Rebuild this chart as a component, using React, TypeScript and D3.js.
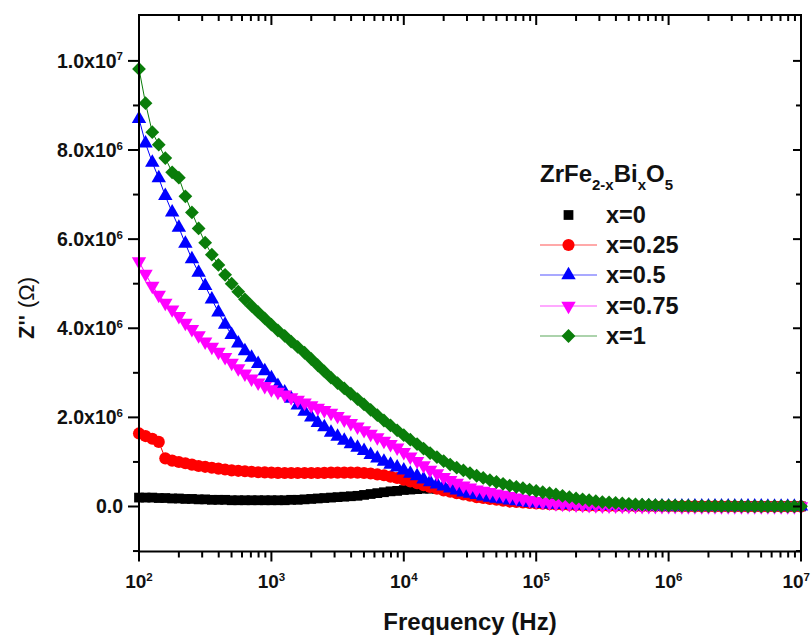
import React from 'react';
import * as d3 from 'd3';

// Measurement frequencies (Hz), 20 points per decade
const frequencies = [
  1.00e2, 1.12e2, 1.26e2, 1.41e2, 1.58e2, 1.78e2, 2.00e2, 2.24e2, 2.51e2, 2.82e2,
  3.16e2, 3.55e2, 3.98e2, 4.47e2, 5.01e2, 5.62e2, 6.31e2, 7.08e2, 7.94e2, 8.91e2,
  1.00e3, 1.12e3, 1.26e3, 1.41e3, 1.58e3, 1.78e3, 2.00e3, 2.24e3, 2.51e3, 2.82e3,
  3.16e3, 3.55e3, 3.98e3, 4.47e3, 5.01e3, 5.62e3, 6.31e3, 7.08e3, 7.94e3, 8.91e3,
  1.00e4, 1.12e4, 1.26e4, 1.41e4, 1.58e4, 1.78e4, 2.00e4, 2.24e4, 2.51e4, 2.82e4,
  3.16e4, 3.55e4, 3.98e4, 4.47e4, 5.01e4, 5.62e4, 6.31e4, 7.08e4, 7.94e4, 8.91e4,
  1.00e5, 1.12e5, 1.26e5, 1.41e5, 1.58e5, 1.78e5, 2.00e5, 2.24e5, 2.51e5, 2.82e5,
  3.16e5, 3.55e5, 3.98e5, 4.47e5, 5.01e5, 5.62e5, 6.31e5, 7.08e5, 7.94e5, 8.91e5,
  1.00e6, 1.12e6, 1.26e6, 1.41e6, 1.58e6, 1.78e6, 2.00e6, 2.24e6, 2.51e6, 2.82e6,
  3.16e6, 3.55e6, 3.98e6, 4.47e6, 5.01e6, 5.62e6, 6.31e6, 7.08e6, 7.94e6, 8.91e6,
  1.00e7,
];

// Z'' values in MΩ for each composition
const zX0 = [
  0.20, 0.20, 0.20, 0.19, 0.19, 0.18, 0.18, 0.17, 0.17, 0.16,
  0.16, 0.15, 0.15, 0.15, 0.14, 0.14, 0.14, 0.14, 0.14, 0.14,
  0.14, 0.14, 0.14, 0.15, 0.15, 0.16, 0.17, 0.18, 0.19, 0.20,
  0.21, 0.22, 0.23, 0.24, 0.26, 0.28, 0.30, 0.32, 0.34, 0.35,
  0.37, 0.38, 0.39, 0.40, 0.40, 0.40, 0.39, 0.37, 0.35, 0.32,
  0.29, 0.27, 0.24, 0.22, 0.20, 0.18, 0.16, 0.14, 0.12, 0.11,
  0.10, 0.09, 0.08, 0.07, 0.06, 0.05, 0.045, 0.04, 0.035, 0.03,
  0.025, 0.022, 0.02, 0.018, 0.016, 0.014, 0.012, 0.01, 0.009, 0.008,
  0.007, 0.006, 0.005, 0.005, 0.004, 0.004, 0.003, 0.003, 0.003, 0.002,
  0.002, 0.002, 0.002, 0.002, 0.001, 0.001, 0.001, 0.001, 0.001, 0.001,
  0.001,
];

const zX025 = [
  1.64, 1.58, 1.52, 1.45, 1.08, 1.03, 1.00, 0.97, 0.94, 0.91,
  0.89, 0.87, 0.85, 0.83, 0.81, 0.80, 0.79, 0.78, 0.77, 0.765,
  0.76, 0.755, 0.75, 0.75, 0.75, 0.75, 0.75, 0.75, 0.755, 0.76,
  0.76, 0.76, 0.76, 0.76, 0.75, 0.74, 0.72, 0.70, 0.67, 0.64,
  0.60, 0.56, 0.52, 0.48, 0.44, 0.40, 0.36, 0.33, 0.30, 0.27,
  0.24, 0.21, 0.19, 0.17, 0.15, 0.13, 0.11, 0.10, 0.09, 0.08,
  0.07, 0.06, 0.05, 0.045, 0.04, 0.035, 0.03, 0.025, 0.02, 0.018,
  0.016, 0.014, 0.012, 0.010, 0.009, 0.008, 0.007, 0.006, 0.005, 0.005,
  0.004, 0.004, 0.003, 0.003, 0.003, 0.002, 0.002, 0.002, 0.002, 0.002,
  0.001, 0.001, 0.001, 0.001, 0.001, 0.001, 0.001, 0.001, 0.001, 0.001,
  0.001,
];

const zX05 = [
  8.70, 8.15, 7.72, 7.37, 6.97, 6.60, 6.26, 5.90, 5.55, 5.25,
  4.95, 4.65, 4.36, 4.08, 3.85, 3.66, 3.49, 3.34, 3.20, 3.04,
  2.88, 2.71, 2.56, 2.42, 2.27, 2.13, 2.00, 1.88, 1.78, 1.66,
  1.57, 1.48, 1.40, 1.32, 1.25, 1.16, 1.08, 1.01, 0.94, 0.88,
  0.81, 0.74, 0.68, 0.61, 0.55, 0.50, 0.45, 0.41, 0.36, 0.32,
  0.29, 0.26, 0.23, 0.20, 0.18, 0.16, 0.14, 0.12, 0.10, 0.08,
  0.07, 0.06, 0.05, 0.045, 0.04, 0.035, 0.03, 0.026, 0.022, 0.019,
  0.016, 0.014, 0.012, 0.011, 0.010, 0.009, 0.008, 0.007, 0.006, 0.006,
  0.005, 0.005, 0.004, 0.004, 0.004, 0.003, 0.003, 0.003, 0.003, 0.002,
  0.002, 0.002, 0.002, 0.002, 0.002, 0.001, 0.001, 0.001, 0.001, 0.001,
  0.001,
];

const zX075 = [
  5.50, 5.22, 4.95, 4.75, 4.57, 4.42, 4.27, 4.12, 3.98, 3.84,
  3.70, 3.58, 3.47, 3.35, 3.22, 3.10, 2.98, 2.87, 2.78, 2.70,
  2.63, 2.57, 2.51, 2.45, 2.39, 2.33, 2.27, 2.21, 2.16, 2.10,
  2.03, 1.95, 1.87, 1.79, 1.71, 1.63, 1.55, 1.47, 1.40, 1.32,
  1.22, 1.12, 1.02, 0.92, 0.82, 0.74, 0.66, 0.59, 0.53, 0.47,
  0.42, 0.38, 0.35, 0.32, 0.29, 0.26, 0.23, 0.20, 0.17, 0.14,
  0.12, 0.10, 0.085, 0.07, 0.06, 0.05, 0.04, 0.035, 0.03, 0.025,
  0.02, 0.018, 0.016, 0.014, 0.012, 0.010, 0.009, 0.008, 0.007, 0.006,
  0.005, 0.005, 0.004, 0.004, 0.003, 0.003, 0.003, 0.003, 0.002, 0.002,
  0.002, 0.002, 0.002, 0.002, 0.001, 0.001, 0.001, 0.001, 0.001, 0.001,
  0.001,
];

const zX1 = [
  9.82, 9.05, 8.40, 8.12, 7.82, 7.50, 7.38, 6.96, 6.60, 6.24,
  5.92, 5.65, 5.42, 5.20, 5.00, 4.82, 4.65, 4.50, 4.36, 4.22,
  4.08, 3.95, 3.83, 3.70, 3.58, 3.45, 3.31, 3.17, 3.03, 2.89,
  2.77, 2.65, 2.53, 2.41, 2.29, 2.17, 2.05, 1.93, 1.82, 1.71,
  1.60, 1.50, 1.40, 1.30, 1.20, 1.11, 1.02, 0.94, 0.87, 0.81,
  0.75, 0.69, 0.64, 0.59, 0.55, 0.51, 0.47, 0.44, 0.41, 0.38,
  0.35, 0.32, 0.30, 0.27, 0.24, 0.21, 0.18, 0.16, 0.14, 0.12,
  0.10, 0.09, 0.08, 0.07, 0.06, 0.05, 0.04, 0.035, 0.03, 0.025,
  0.02, 0.02, 0.015, 0.015, 0.01, 0.01, 0.01, 0.01, 0.008, 0.008,
  0.006, 0.006, 0.005, 0.005, 0.005, 0.004, 0.004, 0.004, 0.003, 0.003,
  0.003,
];

const seriesLabels = ['x=0', 'x=0.25', 'x=0.5', 'x=0.75', 'x=1'];
const seriesColors = ['#000000', '#ff0000', '#0000ff', '#ff00ff', '#0a7d0a'];
const seriesSymbols = ['square', 'circle', 'triangle', 'triangleDown', 'diamond'];
const seriesValues = [zX0, zX025, zX05, zX075, zX1];

// Axis ticks
const xMajorTicks = [1e2, 1e3, 1e4, 1e5, 1e6, 1e7];
const xTickExponents = ['2', '3', '4', '5', '6', '7'];
const yTickValues = [0, 2e6, 4e6, 6e6, 8e6, 1e7];
const yTickBase = ['0.0', '2.0x10', '4.0x10', '6.0x10', '8.0x10', '1.0x10'];
const yTickExp = ['', '6', '6', '6', '6', '7'];
const yMinorTicks = [-1e6, 1e6, 3e6, 5e6, 7e6, 9e6];

const FONT = '"Liberation Sans", Arial, Helvetica, sans-serif';

function symbolPath(kind: string): { d: string; rotate: number } {
  switch (kind) {
    case 'square':
      return { d: d3.symbol(d3.symbolSquare, 95)() as string, rotate: 0 };
    case 'circle':
      return { d: d3.symbol(d3.symbolCircle, 115)() as string, rotate: 0 };
    case 'triangle':
      return { d: d3.symbol(d3.symbolTriangle, 90)() as string, rotate: 0 };
    case 'triangleDown':
      return { d: d3.symbol(d3.symbolTriangle, 90)() as string, rotate: 180 };
    default:
      return { d: d3.symbol(d3.symbolSquare, 95)() as string, rotate: 45 };
  }
}

export default function App() {
  const left = 139;
  const right = 801;
  const top = 15;
  const bottom = 551.5;

  const x = d3.scaleLog().domain([1e2, 1e7]).range([left, right]);
  const y = d3.scaleLinear().domain([-1.01e6, 1.103e7]).range([bottom, top]);

  const xMinor: number[] = [];
  for (let e = 2; e < 7; e++) {
    for (let k = 2; k <= 9; k++) xMinor.push(k * Math.pow(10, e));
  }

  const line = d3
    .line<number>()
    .x((_, i) => x(frequencies[i]))
    .y((v) => y(v * 1e6));

  const legendX = 540;
  const legendLineEnd = 597;
  const legendTextX = 606;
  const legendBaselines = [223, 253, 283, 314, 344];

  return (
    <svg
      width={812}
      height={635}
      style={{ position: 'absolute', left: 0, top: 0, background: '#fff' }}
      fontFamily={FONT}
    >
      <rect x={0} y={0} width={812} height={635} fill="#fff" />

      {/* data series */}
      {seriesValues.map((vals, si) => {
        const sym = symbolPath(seriesSymbols[si]);
        return (
          <g key={si}>
            {si > 0 && (
              <path d={line(vals) as string} fill="none" stroke={seriesColors[si]} strokeWidth={1} />
            )}
            {vals.map((v, i) => (
              <path
                key={i}
                d={sym.d}
                fill={seriesColors[si]}
                transform={`translate(${x(frequencies[i])},${y(v * 1e6)}) rotate(${sym.rotate})`}
              />
            ))}
          </g>
        );
      })}

      {/* frame */}
      <rect x={left} y={top} width={right - left} height={bottom - top} fill="none" stroke="#000" strokeWidth={2} />

      {/* x ticks: bottom outward, top inward */}
      {xMajorTicks.map((t) => (
        <g key={`xM${t}`}>
          <line x1={x(t)} x2={x(t)} y1={bottom} y2={bottom + 10} stroke="#000" strokeWidth={2} />
          <line x1={x(t)} x2={x(t)} y1={top} y2={top + 10} stroke="#000" strokeWidth={2} />
        </g>
      ))}
      {xMinor.map((t) => (
        <g key={`xm${t}`}>
          <line x1={x(t)} x2={x(t)} y1={bottom} y2={bottom + 6} stroke="#000" strokeWidth={2} />
          <line x1={x(t)} x2={x(t)} y1={top} y2={top + 6} stroke="#000" strokeWidth={2} />
        </g>
      ))}
      {xMajorTicks.map((t, i) => {
        const last = i === xMajorTicks.length - 1;
        return (
          <text
            key={`xl${t}`}
            x={last ? 810 : x(t)}
            y={588}
            textAnchor={last ? 'end' : 'middle'}
            fontSize={19}
            fontWeight="bold"
            fill="#111"
          >
            10
            <tspan dy={-7} fontSize={11.5}>
              {xTickExponents[i]}
            </tspan>
          </text>
        );
      })}

      {/* y ticks: left outward, right inward */}
      {yTickValues.map((t) => (
        <g key={`yM${t}`}>
          <line x1={left - 11} x2={left} y1={y(t)} y2={y(t)} stroke="#000" strokeWidth={2} />
          <line x1={right - 8} x2={right} y1={y(t)} y2={y(t)} stroke="#000" strokeWidth={2} />
        </g>
      ))}
      {yMinorTicks.map((t) => (
        <g key={`ym${t}`}>
          <line x1={left - 6} x2={left} y1={y(t)} y2={y(t)} stroke="#000" strokeWidth={2} />
          <line x1={right - 5} x2={right} y1={y(t)} y2={y(t)} stroke="#000" strokeWidth={2} />
        </g>
      ))}
      {yTickValues.map((t, i) => (
        <text key={`yl${t}`} x={123} y={y(t) + 7} textAnchor="end" fontSize={19.5} fontWeight="bold" fill="#111">
          {yTickBase[i]}
          {yTickExp[i] && (
            <tspan dy={-7.5} fontSize={11.5}>
              {yTickExp[i]}
            </tspan>
          )}
        </text>
      ))}

      {/* axis titles */}
      <text x={470} y={630} textAnchor="middle" fontSize={24} fontWeight="bold" fill="#111">
        Frequency (Hz)
      </text>
      <text transform="translate(34,308) rotate(-90)" textAnchor="middle" fontSize={22} fill="#111">
        <tspan fontWeight="bold">Z''</tspan>
        <tspan dx={7}>(Ω)</tspan>
      </text>

      {/* legend */}
      <text x={legendX} y={182} fontSize={24} fontWeight="bold" fill="#111">
        ZrFe
        <tspan dy={8} fontSize={15}>2-x</tspan>
        <tspan dy={-8}>Bi</tspan>
        <tspan dy={8} fontSize={15}>x</tspan>
        <tspan dy={-8}>O</tspan>
        <tspan dy={8} fontSize={15}>5</tspan>
      </text>
      {seriesLabels.map((lab, si) => {
        const sym = symbolPath(seriesSymbols[si]);
        const cy = legendBaselines[si] - 8;
        const cx = (legendX + legendLineEnd) / 2;
        return (
          <g key={lab}>
            {si > 0 && (
              <line
                x1={legendX}
                x2={legendLineEnd}
                y1={cy}
                y2={cy}
                stroke={seriesColors[si]}
                strokeOpacity={0.45}
                strokeWidth={1.5}
              />
            )}
            <path d={sym.d} fill={seriesColors[si]} transform={`translate(${cx},${cy}) rotate(${sym.rotate})`} />
            <text x={legendTextX} y={legendBaselines[si]} fontSize={23.5} fontWeight="bold" fill="#111">
              {lab}
            </text>
          </g>
        );
      })}
    </svg>
  );
}
